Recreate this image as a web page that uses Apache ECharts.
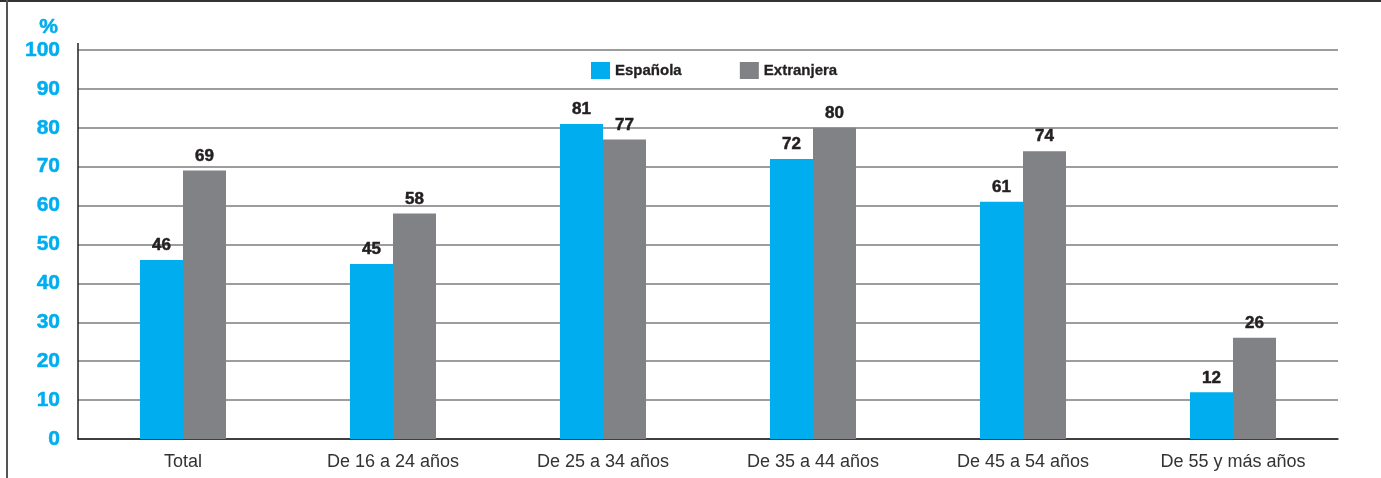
<!DOCTYPE html>
<html>
<head>
<meta charset="utf-8">
<script src="https://cdn.jsdelivr.net/npm/echarts@6/dist/echarts.min.js"></script>
<style>
  html, body { margin: 0; padding: 0; background: #fff; }
  #chart { width: 1381px; height: 478px; }
</style>
</head>
<body>
<div id="chart"></div>
<script>
// Porcentaje por grupo de edad y nacionalidad
const categories = ['Total', 'De 16 a 24 años', 'De 25 a 34 años', 'De 35 a 44 años', 'De 45 a 54 años', 'De 55 y más años'];
const espanola = [46, 45, 81, 72, 61, 12];
const extranjera = [69, 58, 77, 80, 74, 26];
const yTicks = [0, 10, 20, 30, 40, 50, 60, 70, 80, 90, 100];

const BLUE = '#00aeef';
const GRAY = '#808285';
const INK = '#231f20';
const FONT = '"Liberation Sans", Arial, sans-serif';

const chart = echarts.init(document.getElementById('chart'));

// heavy numerals: bold face thickened with a thin same-colour outline
const barLabel = {
  show: true,
  position: 'top',
  distance: 6,
  color: INK,
  textBorderColor: INK,
  textBorderWidth: 0.5,
  fontFamily: FONT,
  fontWeight: 'bold',
  fontSize: 17
};

chart.setOption({
  animation: false,
  textStyle: { fontFamily: FONT },
  grid: { left: 78, right: 43, top: 50, bottom: 39, containLabel: false },
  legend: {
    left: 586,
    top: 57,
    itemWidth: 19,
    itemHeight: 17,
    itemGap: 58,
    icon: 'rect',
    textStyle: { color: INK, textBorderColor: INK, textBorderWidth: 0.3, fontWeight: 'bold', fontSize: 15, fontFamily: FONT },
    data: ['Española', 'Extranjera']
  },
  xAxis: {
    type: 'category',
    data: categories,
    axisLine: { lineStyle: { color: INK, width: 1.5 } },
    axisTick: { inside: true, length: 6, lineStyle: { color: INK } },
    axisLabel: { color: '#333', fontSize: 18, margin: 14, fontFamily: FONT },
    splitLine: { show: false }
  },
  yAxis: {
    type: 'value',
    min: yTicks[0],
    max: yTicks[yTicks.length - 1],
    interval: 10,
    name: '%',
    nameLocation: 'end',
    nameGap: 12,
    nameTextStyle: { color: BLUE, textBorderColor: BLUE, textBorderWidth: 0.5, fontWeight: 'bold', fontSize: 21, fontFamily: FONT, align: 'right', padding: [0, 20, 0, 0] },
    axisLine: { show: true, lineStyle: { color: INK, width: 1.5 } },
    axisTick: { show: false },
    axisLabel: { color: BLUE, textBorderColor: BLUE, textBorderWidth: 0.5, fontWeight: 'bold', fontSize: 21, margin: 18, fontFamily: FONT },
    splitLine: { lineStyle: { color: '#7d7d7d', width: 1.6 } }
  },
  series: [
    {
      name: 'Española',
      type: 'bar',
      data: espanola,
      barWidth: 43,
      barGap: '0%',
      itemStyle: { color: BLUE },
      label: barLabel
    },
    {
      name: 'Extranjera',
      type: 'bar',
      data: extranjera,
      barWidth: 43,
      itemStyle: { color: GRAY },
      label: barLabel
    }
  ],
  graphic: [
    // frame edges
    { type: 'line', shape: { x1: 0, y1: 1, x2: 1381, y2: 1 }, style: { stroke: '#333', lineWidth: 2 }, silent: true },
    { type: 'line', shape: { x1: 7, y1: 0, x2: 7, y2: 478 }, style: { stroke: '#555', lineWidth: 2 }, silent: true },
    // y axis line continues a little above the top gridline
    { type: 'line', shape: { x1: 78, y1: 43, x2: 78, y2: 50 }, style: { stroke: INK, lineWidth: 1.5 }, silent: true }
  ]
});
</script>
</body>
</html>
